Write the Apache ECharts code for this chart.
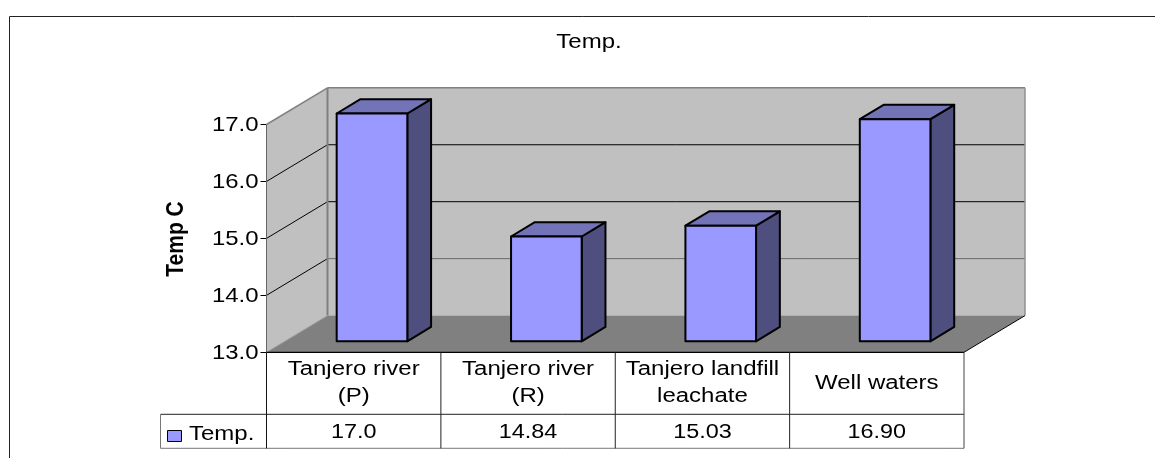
<!DOCTYPE html>
<html>
<head>
<meta charset="utf-8">
<title>Temp.</title>
<script src="https://cdn.jsdelivr.net/npm/echarts@6/dist/echarts.min.js"></script>
<style>
    html, body { margin: 0; padding: 0; background: #fff; }
    #chart { width: 1155px; height: 458px; }
</style>
</head>
<body>
<div id="chart"></div>
<script>
const categories = ['Tanjero river\n(P)', 'Tanjero river\n(R)', 'Tanjero landfill\nleachate', 'Well waters'];
const tempValues = [17.0, 14.84, 15.03, 16.90];
const tableLabels = ['17.0', '14.84', '15.03', '16.90'];
const tickValues = [13, 14, 15, 16, 17];
const seriesName = 'Temp.';

// look of the old 3D column chart
const FONT = 'Liberation Sans, Arial, sans-serif';
const DEPTH_X = 61, DEPTH_Y = 36.7;
const BAR_NEAR = 0.3, BAR_FAR = 0.69, BAR_WIDTH = 0.405;
const ROW_1 = 62, ROW_2 = 96;  // table row bottoms under the axis

function line(x1, y1, x2, y2, stroke, width) {
    return { type: 'line', shape: { x1, y1, x2, y2 }, style: { stroke, lineWidth: width || 1 } };
}
function poly(points, fill, stroke, width) {
    return { type: 'polygon', shape: { points }, style: { fill, stroke: stroke || null, lineWidth: width || 0, lineJoin: 'round' } };
}
// the source picture is a bit wider than tall, so text gets a scale
function label(text, x, y, size, opts) {
    opts = opts || {};
    return {
        type: 'text', x, y, rotation: opts.rotation || 0,
        scaleX: opts.scaleX || 1.17, scaleY: opts.scaleY || 1,
        style: {
            text, fill: '#000', align: opts.align || 'center', verticalAlign: 'middle',
            font: (opts.bold ? 'bold ' : '') + size + 'px ' + FONT, lineHeight: 27
        }
    };
}

// walls, floor and gridlines
function renderWalls(params, api) {
    const cs = params.coordSys;
    const left = cs.x, right = cs.x + cs.width;
    const bottom = api.coord([0, 13])[1], top = api.coord([0, 17])[1];
    const children = [
        poly([[left + DEPTH_X, top - DEPTH_Y], [right + DEPTH_X, top - DEPTH_Y], [right + DEPTH_X, bottom - DEPTH_Y], [left + DEPTH_X, bottom - DEPTH_Y]], '#c0c0c0'),
        poly([[left, top], [left + DEPTH_X, top - DEPTH_Y], [left + DEPTH_X, bottom - DEPTH_Y], [left, bottom]], '#c0c0c0'),
        poly([[left, bottom], [left + DEPTH_X, bottom - DEPTH_Y], [right + DEPTH_X, bottom - DEPTH_Y], [right, bottom]], '#808080')
    ];
    tickValues.slice(1, -1).forEach(function (v) {
        const y = api.coord([0, v])[1];
        const c = v === 14 ? '#6a6a6a' : '#000';
        children.push(line(left, y, left + DEPTH_X, y - DEPTH_Y, '#000'));
        children.push(line(left + DEPTH_X, y - DEPTH_Y, right + DEPTH_X, y - DEPTH_Y, c));
    });
    children.push(line(left, top, left + DEPTH_X, top - DEPTH_Y, '#808080', 1.5));
    children.push(line(left + DEPTH_X, top - DEPTH_Y, right + DEPTH_X, top - DEPTH_Y, '#808080', 1.5));
    children.push(line(left + DEPTH_X, top - DEPTH_Y, left + DEPTH_X, bottom - DEPTH_Y, '#808080', 2));
    children.push(line(right + DEPTH_X, top - DEPTH_Y, right + DEPTH_X, bottom - DEPTH_Y, '#909090', 1.5));
    children.push(line(left, bottom, left + DEPTH_X, bottom - DEPTH_Y, '#a0a0a0'));
    children.push(line(right, bottom, right + DEPTH_X, bottom - DEPTH_Y, '#000'));
    children.push(line(left, top, left, bottom, '#666'));
    return { type: 'group', children };
}

function renderBar(params, api) {
    const cat = api.value(0), val = api.value(1);
    const band = api.size([1, 0])[0];
    const center = api.coord([cat, val])[0];
    const w = band * BAR_WIDTH;
    const nearX = BAR_NEAR * DEPTH_X, nearY = BAR_NEAR * DEPTH_Y;
    const farX = BAR_FAR * DEPTH_X, farY = BAR_FAR * DEPTH_Y;
    const x0 = center - w / 2 + nearX, x1 = center + w / 2 + nearX;
    const yTop = api.coord([cat, val])[1] - nearY, yBot = api.coord([cat, 13])[1] - nearY;
    const dx = farX - nearX, dy = farY - nearY;
    return {
        type: 'group',
        children: [
            poly([[x1, yTop], [x1 + dx, yTop - dy], [x1 + dx, yBot - dy], [x1, yBot]], '#4e4e7f', '#000', 2),
            poly([[x0, yTop], [x0 + dx, yTop - dy], [x1 + dx, yTop - dy], [x1, yTop]], '#7373b8', '#000', 2),
            poly([[x0, yTop], [x1, yTop], [x1, yBot], [x0, yBot]], '#9999ff', '#000', 2)
        ]
    };
}

// tick labels, category row, value row and the rest of the text
function renderText(params, api) {
    const cs = params.coordSys;
    const left = cs.x, right = cs.x + cs.width, band = cs.width / categories.length;
    const bottom = api.coord([0, 13])[1];
    const r1 = bottom + ROW_1, r2 = bottom + ROW_2;
    const tableLeft = left - 106;
    const children = [
        line(left, bottom, right, bottom, '#000', 1.2),
        line(tableLeft, r1, right, r1, '#222'),
        line(tableLeft, r2, right, r2, '#777'),
        line(tableLeft, r1, tableLeft, r2, '#777'),
        line(left, bottom, left, r2, '#111'),
        line(right, bottom, right, r2, '#444')
    ];
    categories.forEach(function (c, i) {
        const cx = left + band * (i + 0.5);
        if (i > 0) children.push(line(left + band * i, bottom, left + band * i, r2, '#222'));
        children.push(label(c, cx, bottom + 31, 20, { scaleX: 1.2 }));
        children.push(label(tableLabels[i], cx, bottom + 80.5, 20));
    });
    tickValues.forEach(function (v) {
        children.push(label(v.toFixed(1), left - 8, api.coord([0, v])[1] + 0.5, 21, { align: 'right', scaleX: 1.14 }));
    });
    children.push(label(seriesName, left - 77.5, bottom + 82.5, 20, { align: 'left', scaleX: 1.2 }));
    children.push(label(seriesName, 589, 42, 20, { scaleX: 1.2 }));
    children.push(label('Temp C', 177, 239, 20, { bold: true, rotation: Math.PI / 2, scaleX: 1.05, scaleY: 1.15 }));
    children.push(line(9.5, 16.5, 1155, 16.5, '#222'));
    children.push(line(9.5, 16.5, 9.5, 458, '#222'));
    return { type: 'group', children };
}

const chart = echarts.init(document.getElementById('chart'));
const option = {
    animation: false,
    backgroundColor: '#fff',
    legend: {
        data: [{ name: seriesName, icon: 'rect' }],
        left: 162, top: 425,
        padding: 5,
        itemWidth: 14, itemHeight: 11,
        formatter: function () { return ''; },
        selectedMode: false,
        itemStyle: { borderColor: '#000', borderWidth: 1 }
    },
    grid: { left: 266.5, right: 1155 - 964, top: 124.5, height: 227.8, containLabel: false },
    xAxis: {
        type: 'category',
        data: categories,
        axisLine: { show: false },
        axisTick: { show: false },
        axisLabel: { show: false }
    },
    yAxis: {
        type: 'value',
        min: 13, max: 17, interval: 1,
        splitLine: { show: false },
        axisLine: { show: false },
        axisTick: { show: true, length: 6, lineStyle: { color: '#000' } },
        axisLabel: { show: false }
    },
    series: [
        { type: 'custom', name: 'walls', silent: true, renderItem: renderWalls, data: [[0, 13]], clip: false, z: 1 },
        {
            type: 'custom', name: seriesName, renderItem: renderBar, clip: false, z: 2,
            itemStyle: { color: '#9999ff' },
            encode: { x: 0, y: 1 },
            data: tempValues.map(function (v, i) { return [i, v]; })
        },
        { type: 'custom', name: 'text', silent: true, renderItem: renderText, data: [[0, 13]], clip: false, z: 3 }
    ]
};
chart.setOption(option);
</script>
</body>
</html>
